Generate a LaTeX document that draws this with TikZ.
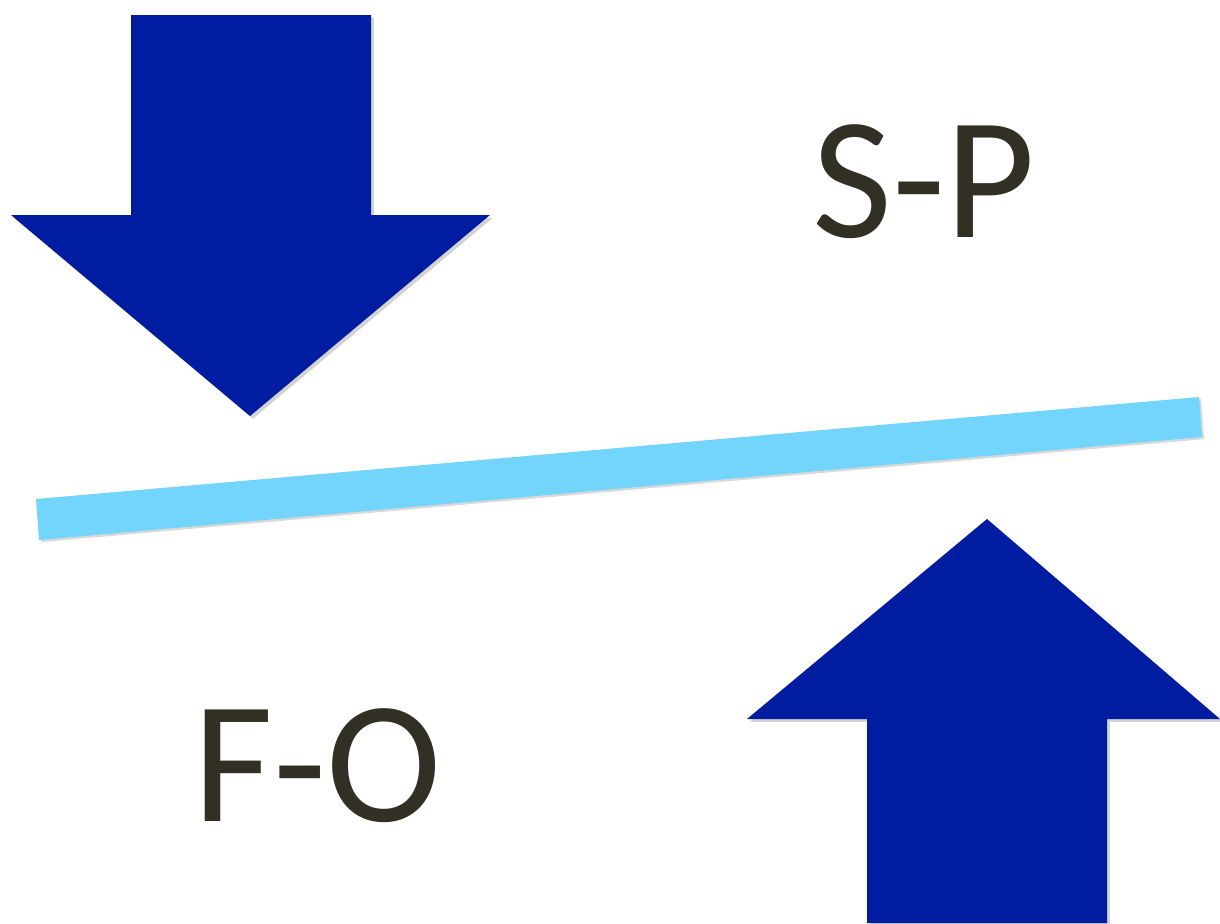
\documentclass[tikz,border=0pt]{standalone}
\usepackage{fontspec}
\setmainfont{Carlito}
\usetikzlibrary{shadows}
\begin{document}
\begin{tikzpicture}[x=0.02cm, y=-0.02cm]
		\definecolor{arrowblue}{RGB}{0, 28, 160}
		\definecolor{barblue}{RGB}{115, 212, 252}
		\definecolor{textdark}{RGB}{50, 48, 36}
		\tikzset{bigarrow/.style={fill=arrowblue, drop shadow={shadow xshift=1.6pt, shadow yshift=-1.6pt, opacity=0.35}},
		         label/.style={text=textdark, font=\fontsize{99}{99}\selectfont}}
		\useasboundingbox (0,0) rectangle (1220,923);
		
		% 向下的箭头
		\fill[bigarrow] (131,15) -- (371,15) -- (371,215) -- (490,215) -- (250,416) -- (11,215) -- (131,215) -- cycle;
		% 向上的箭头
		\fill[bigarrow] (867,923) -- (1107,923) -- (1107,719) -- (1220,719) -- (987,519) -- (747,719) -- (867,719) -- cycle;
		
		% 倾斜的横杆
		\fill[barblue, drop shadow={shadow xshift=1.2pt, shadow yshift=-1.2pt, opacity=0.3}] (36,499) -- (1199,397) -- (1202,437) -- (39,540) -- cycle;
		
		% 文字
		\node[label] (sp) at (924,182) {S-P};
		\node[label] (fo) at (318,766) {F-O};
		\end{tikzpicture}
\end{document}
